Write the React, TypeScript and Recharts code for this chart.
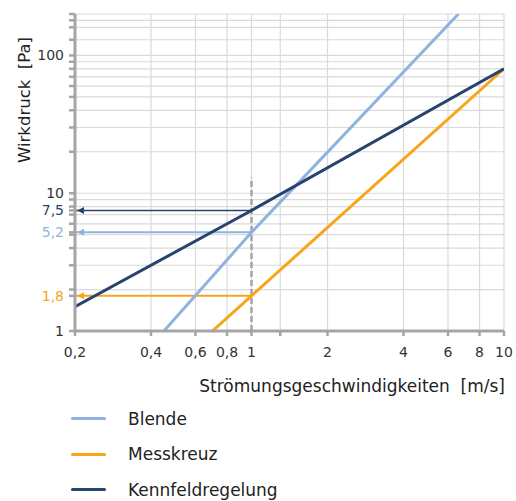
import { LineChart, Line, XAxis, YAxis, CartesianGrid, ReferenceLine, Legend } from 'recharts'

// Strömungsgeschwindigkeit [m/s] / Wirkdruck [Pa]
const blendeV = [0.45, 1, 6.6]
const blendeP = [1, 5.2, 200]
const messkreuzV = [0.7, 1, 10]
const messkreuzP = [1, 1.8, 80]
const kennfeldV = [0.2, 1, 10]
const kennfeldP = [1.5, 7.5, 80]

// Ablesewerte bei 1 m/s
const readV = 1
const readP = { kennfeld: 7.5, blende: 5.2, messkreuz: 1.8 }

const seriesOrder = ['Blende', 'Messkreuz', 'Kennfeldregelung']

const xTicks = [0.2, 0.4, 0.6, 0.8, 1, 1.3, 2, 4, 6, 8, 10]
const xLabels = [0.2, 0.4, 0.6, 0.8, 1, 2, 4, 6, 8, 10]
const yTicks = [1, 1.8, 2, 3, 4, 5, 5.2, 6, 7, 7.5, 8, 9, 10, 20, 30, 40, 50, 60, 70, 80, 90, 100, 130, 160, 180, 200]
const yLabels = [1, 1.8, 5.2, 7.5, 10, 100]
const yGrid = [1, 2, 3, 4, 5, 6, 7, 8, 9, 10, 20, 30, 40, 50, 60, 70, 80, 90, 100, 130, 160, 180, 200]

const LIGHT = '#8fb3df'
const ORANGE = '#f8a51c'
const DARK = '#27446f'
const AXIS = '#a5a5a5'
const GRID = '#dadada'
const FONT = '"DejaVu Sans", sans-serif'

const toRows = (v: number[], p: number[]) => v.map((x, i) => ({ v: x, p: p[i] }))

const labelColor: { [k: string]: string } = { '7.5': DARK, '5.2': LIGHT, '1.8': ORANGE }

const fmt = (n: number) => String(n).replace('.', ',')

const YTick = (props: any) => {
  const { x, y, payload } = props
  const val = payload.value
  if (!yLabels.includes(val)) return <g />
  return (
    <text x={x} y={y} dy={5} textAnchor="end" fontSize={14} fontFamily={FONT} fill={labelColor[String(val)] || '#333'}>
      {fmt(val)}
    </text>
  )
}

const XTick = (props: any) => {
  const { x, y, payload } = props
  if (!xLabels.includes(payload.value)) return <g />
  return (
    <text x={x} y={y} dy={12} textAnchor="middle" fontSize={14} fontFamily={FONT} fill="#333">
      {fmt(payload.value)}
    </text>
  )
}

const arrowDot = (color: string) => (props: any) => {
  const { cx, cy, index } = props
  if (index !== 0) return <g key={`d${index}`} />
  return <path key="arrow" d={`M${cx + 2},${cy} L${cx + 9},${cy - 3.5} L${cx + 9},${cy + 3.5} Z`} fill={color} />
}

const LegendList = (props: any) => {
  const items = (props.payload || []).filter((e: any) => e.type !== 'none')
  items.sort((a: any, b: any) => seriesOrder.indexOf(a.value) - seriesOrder.indexOf(b.value))
  return (
    <div>
      {items.map((e: any) => (
        <div key={e.value} style={{ display: 'flex', alignItems: 'center', height: 35.5 }}>
          <div style={{ width: 35, height: 3, borderRadius: 2, background: e.color }} />
          <span style={{ marginLeft: 22, fontSize: 17, fontFamily: FONT, color: '#222' }}>{e.value}</span>
        </div>
      ))}
    </div>
  )
}

const App = () => {
  return (
    <div style={{ position: 'absolute', left: 0, top: 0, fontFamily: FONT }}>
      <LineChart width={516} height={501} margin={{ top: 14, right: 12, left: 0, bottom: 3.5 }}>
        <CartesianGrid stroke={GRID} strokeWidth={1.2} horizontalValues={yGrid} verticalValues={xTicks} />
        <XAxis
          dataKey="v"
          type="number"
          scale="log"
          domain={[0.2, 10]}
          allowDataOverflow
          ticks={xTicks}
          interval={0}
          height={60}
          tick={<XTick />}
          tickSize={5}
          tickMargin={9}
          axisLine={{ stroke: AXIS, strokeWidth: 3 }}
          tickLine={{ stroke: AXIS, strokeWidth: 2.5 }}
          label={({ viewBox }: any) => (
            <text x={viewBox.x + viewBox.width + 1} y={viewBox.y + 61} textAnchor="end" fontSize={17} fontFamily={FONT} fill="#222">
              {'Strömungsgeschwindigkeiten\u00a0 [m/s]'}
            </text>
          )}
        />
        <YAxis
          type="number"
          scale="log"
          domain={[1, 200]}
          allowDataOverflow
          ticks={yTicks}
          interval={0}
          width={75}
          tick={<YTick />}
          tickSize={6}
          tickMargin={5}
          axisLine={{ stroke: AXIS, strokeWidth: 3 }}
          tickLine={{ stroke: AXIS, strokeWidth: 2.5 }}
          label={() => (
            <text
              x={24}
              y={100}
              transform="rotate(-90 24 100)"
              textAnchor="middle"
              dominantBaseline="central"
              fontSize={16.5}
              fontFamily={FONT}
              fill="#222"
            >
              {'Wirkdruck\u00a0 [Pa]'}
            </text>
          )}
        />
        <ReferenceLine
          segment={[{ x: readV, y: 1 }, { x: readV, y: 13 }]}
          stroke={AXIS}
          strokeWidth={2.5}
          strokeDasharray="6 3"
        />
        <Line
          data={toRows([0.2, readV], [readP.kennfeld, readP.kennfeld])}
          dataKey="p"
          stroke={DARK}
          strokeWidth={1.5}
          dot={arrowDot(DARK)}
          legendType="none"
          isAnimationActive={false}
        />
        <Line
          data={toRows([0.2, readV], [readP.blende, readP.blende])}
          dataKey="p"
          stroke={LIGHT}
          strokeWidth={2}
          dot={arrowDot(LIGHT)}
          legendType="none"
          isAnimationActive={false}
        />
        <Line
          data={toRows([0.2, readV], [readP.messkreuz, readP.messkreuz])}
          dataKey="p"
          stroke={ORANGE}
          strokeWidth={2}
          dot={arrowDot(ORANGE)}
          legendType="none"
          isAnimationActive={false}
        />
        <Line
          name="Blende"
          data={toRows(blendeV, blendeP)}
          dataKey="p"
          stroke={LIGHT}
          strokeWidth={3}
          dot={false}
          isAnimationActive={false}
        />
        <Line
          name="Messkreuz"
          data={toRows(messkreuzV, messkreuzP)}
          dataKey="p"
          stroke={ORANGE}
          strokeWidth={3}
          dot={false}
          isAnimationActive={false}
        />
        <Line
          name="Kennfeldregelung"
          data={toRows(kennfeldV, kennfeldP)}
          dataKey="p"
          stroke={DARK}
          strokeWidth={3}
          dot={false}
          isAnimationActive={false}
        />
        <Legend
          layout="vertical"
          align="center"
          verticalAlign="bottom"
          content={<LegendList />}
          wrapperStyle={{ left: 71, top: 401, bottom: 'auto', width: 300 }}
        />
      </LineChart>
    </div>
  )
}

export default App
